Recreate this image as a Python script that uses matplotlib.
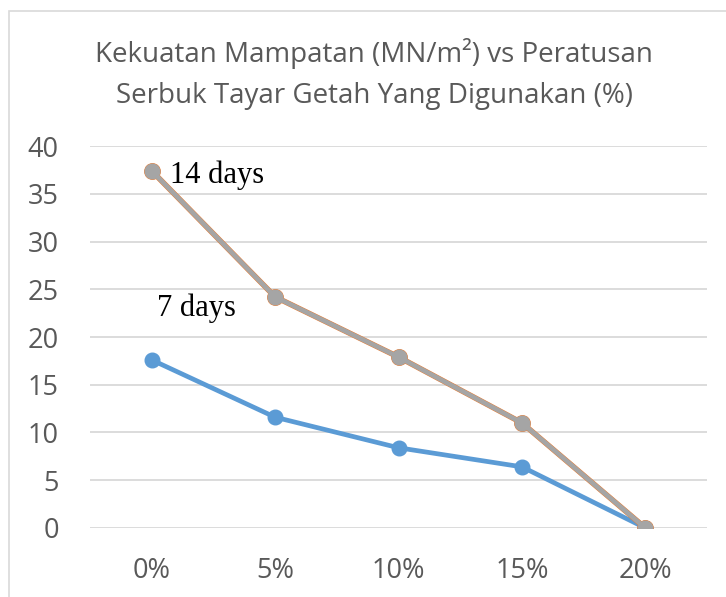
import matplotlib.pyplot as plt
from matplotlib.patches import Rectangle

# data
categories = ['0%', '5%', '10%', '15%', '20%']
days7 = [17.6, 11.6, 8.4, 6.4, 0]
days14 = [37.4, 24.2, 17.9, 11.0, 0]

blue = '#5b9bd5'
orange = '#ed7d31'
gray = '#a5a5a5'
txt = '#595959'

plt.rcParams['font.family'] = ['Open Sans', 'DejaVu Sans']

fig = plt.figure(figsize=(7.26, 5.97), dpi=100)
ax = fig.add_axes([0.124, 0.1156, 0.850, 0.6398])

# chart border
fig.patches.append(Rectangle((9 / 726, -0.1), 1.2, 1 - 11 / 597 + 0.1,
                             transform=fig.transFigure, fill=False,
                             edgecolor='#d9d9d9', linewidth=1.2))

x = range(len(categories))
ax.plot(x, days7, color=blue, lw=3.4, marker='o', ms=10.5, zorder=3)
# orange series sits just under the gray one
ax.plot(x, days14, color=orange, lw=4.0, marker='o', ms=11.1, zorder=4)
ax.plot(x, days14, color=gray, lw=3.4, marker='o', ms=10.5, zorder=5)

ax.set_xlim(-0.5, len(categories) - 0.5)
ax.set_ylim(0, 40)
ax.set_yticks(range(0, 41, 5))
ax.set_xticks(list(x))
ax.set_xticklabels(categories)
ax.grid(axis='y', color='#d9d9d9', lw=1.3)
ax.set_axisbelow(True)
for s in ax.spines.values():
    s.set_visible(False)
ax.tick_params(length=0, labelsize=19.5, colors=txt)
ax.tick_params(axis='y', pad=22.5)
ax.tick_params(axis='x', pad=21)

ax.text(0.146, 36.1, '14 days', family='Liberation Serif', fontsize=22,
        ha='left', va='baseline', zorder=6)
ax.text(0.04, 22.2, '7 days', family='Liberation Serif', fontsize=22,
        ha='left', va='baseline', zorder=6)

fig.text(374 / 726, 1 - 62 / 597, 'Kekuatan Mampatan (MN/m²) vs Peratusan',
         ha='center', va='baseline', fontsize=20, color=txt)
fig.text(374 / 726, 1 - 103 / 597, 'Serbuk Tayar Getah Yang Digunakan (%)',
         ha='center', va='baseline', fontsize=20, color=txt)

fig.savefig('out.png', dpi=100)
